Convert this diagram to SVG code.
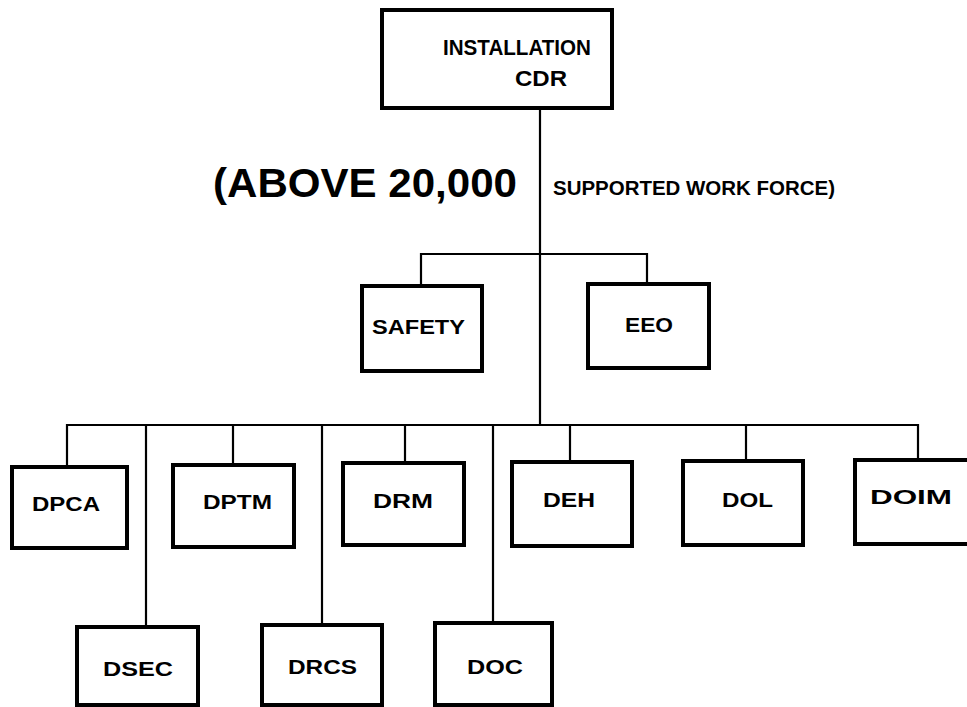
<svg xmlns="http://www.w3.org/2000/svg" width="967" height="707" viewBox="0 0 967 707">
<style>
.box{fill:#fff;stroke:#000;stroke-width:4}
.ln{fill:none;stroke:#000;stroke-width:2.2}
.t{font-family:"Liberation Sans",Arial,sans-serif;font-weight:bold;fill:#000}
.lb{font-size:20px}
</style>
<rect width="967" height="707" fill="#fff"/>
<g id="connectors">
<path class="ln" d="M540,108 V425"/>
<path class="ln" d="M421,286 V254 H647 V284"/>
<path class="ln" d="M67,467 V425 H918 V460"/>
<path class="ln" d="M146,425 V627"/>
<path class="ln" d="M233,425 V465"/>
<path class="ln" d="M322,425 V625"/>
<path class="ln" d="M405,425 V463"/>
<path class="ln" d="M493,425 V623"/>
<path class="ln" d="M570,425 V462"/>
<path class="ln" d="M746,425 V461"/>
</g>
<g id="cdr">
<rect class="box" x="382" y="10" width="230" height="98"/>
<text class="t" x="443" y="55" font-size="22" textLength="148" lengthAdjust="spacingAndGlyphs">INSTALLATION</text>
<text class="t" x="515" y="86" font-size="22" textLength="52" lengthAdjust="spacingAndGlyphs">CDR</text>
</g>
<g id="caption">
<text class="t" x="213" y="197" font-size="41" textLength="304" lengthAdjust="spacingAndGlyphs">(ABOVE 20,000</text>
<text class="t" x="553" y="195" font-size="20" textLength="282" lengthAdjust="spacingAndGlyphs">SUPPORTED WORK FORCE)</text>
</g>
<g id="safety">
<rect class="box" x="362" y="286" width="120" height="85"/>
<text class="t lb" x="372" y="334" textLength="93" lengthAdjust="spacingAndGlyphs">SAFETY</text>
</g>
<g id="eeo">
<rect class="box" x="588" y="284" width="121" height="84"/>
<text class="t lb" x="625" y="332" textLength="48" lengthAdjust="spacingAndGlyphs">EEO</text>
</g>
<g id="dpca">
<rect class="box" x="12" y="467" width="115" height="81"/>
<text class="t lb" x="32" y="511" textLength="68" lengthAdjust="spacingAndGlyphs">DPCA</text>
</g>
<g id="dptm">
<rect class="box" x="173" y="465" width="121" height="82"/>
<text class="t lb" x="203" y="509" textLength="69" lengthAdjust="spacingAndGlyphs">DPTM</text>
</g>
<g id="drm">
<rect class="box" x="343" y="463" width="121" height="82"/>
<text class="t lb" x="373" y="508" textLength="60" lengthAdjust="spacingAndGlyphs">DRM</text>
</g>
<g id="deh">
<rect class="box" x="512" y="462" width="120" height="84"/>
<text class="t lb" x="543" y="507" textLength="52" lengthAdjust="spacingAndGlyphs">DEH</text>
</g>
<g id="dol">
<rect class="box" x="683" y="461" width="120" height="84"/>
<text class="t lb" x="722" y="507" textLength="51" lengthAdjust="spacingAndGlyphs">DOL</text>
</g>
<g id="doim">
<rect class="box" x="855" y="460" width="125" height="84"/>
<text class="t lb" x="870" y="504" textLength="82" lengthAdjust="spacingAndGlyphs">DOIM</text>
</g>
<g id="dsec">
<rect class="box" x="77" y="627" width="121" height="78"/>
<text class="t lb" x="103" y="676" textLength="70" lengthAdjust="spacingAndGlyphs">DSEC</text>
</g>
<g id="drcs">
<rect class="box" x="262" y="625" width="120" height="80"/>
<text class="t lb" x="288" y="674" textLength="69" lengthAdjust="spacingAndGlyphs">DRCS</text>
</g>
<g id="doc">
<rect class="box" x="435" y="623" width="117" height="82"/>
<text class="t lb" x="467" y="674" textLength="56" lengthAdjust="spacingAndGlyphs">DOC</text>
</g>
</svg>
